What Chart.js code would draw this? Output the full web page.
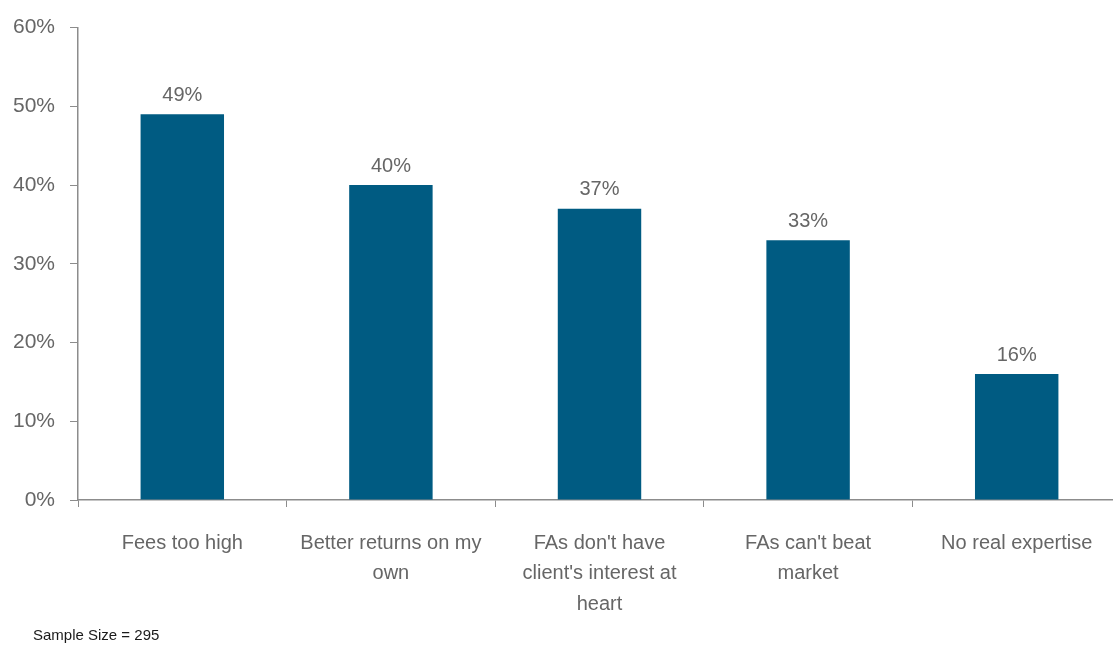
<!DOCTYPE html>
<html>
<head>
<meta charset="utf-8">
<script src="https://cdn.jsdelivr.net/npm/chart.js@4"></script>
<style>
  html, body { margin: 0; padding: 0; background: #fff; overflow: hidden; }
  #wrap { position: relative; width: 1121px; height: 645px; }
</style>
</head>
<body>
<div id="wrap"><canvas id="chartReasons"></canvas></div>
<script>
  const categories = [
    "Fees too high",
    ["Better returns on my", "own"],
    ["FAs don't have", "client's interest at", "heart"],
    ["FAs can't beat", "market"],
    "No real expertise"
  ];
  const shares = [49, 40, 37, 33, 16];
  const yTicks = [0, 10, 20, 30, 40, 50, 60];
  const footnote = "Sample Size = 295";

  const textGrey = "#666666";
  const axisGrey = "#8c8c8c";

  /* value labels over each bar */
  const barLabels = {
    id: "barLabels",
    afterDatasetsDraw(chart) {
      const ctx = chart.ctx;
      const meta = chart.getDatasetMeta(0);
      ctx.save();
      ctx.font = "20px 'Liberation Sans', Arial, sans-serif";
      ctx.fillStyle = textGrey;
      ctx.textAlign = "center";
      ctx.textBaseline = "bottom";
      meta.data.forEach(function (bar, i) {
        ctx.fillText(shares[i] + "%", bar.x, bar.y - 9);
      });
      ctx.restore();
    }
  };

  /* sample size note under the chart */
  const sampleNote = {
    id: "sampleNote",
    afterDraw(chart) {
      const ctx = chart.ctx;
      ctx.save();
      ctx.font = "15px 'Liberation Sans', Arial, sans-serif";
      ctx.fillStyle = "#1a1a1a";
      ctx.textAlign = "left";
      ctx.textBaseline = "middle";
      ctx.fillText(footnote, 33, 636);
      ctx.restore();
    }
  };

  new Chart(document.getElementById("chartReasons").getContext("2d"), {
    type: "bar",
    data: {
      labels: categories,
      datasets: [
        {
          data: shares,
          backgroundColor: "#005b82",
          borderWidth: 0,
          categoryPercentage: 1,
          barPercentage: 0.4
        }
      ]
    },
    options: {
      responsive: true,
      maintainAspectRatio: false,
      animation: false,
      layout: { padding: { top: 25, right: 0, bottom: 0, left: 0 } },
      scales: {
        x: {
          border: { display: true, color: axisGrey, width: 1.5 },
          grid: {
            display: true,
            offset: true,
            drawOnChartArea: false,
            drawTicks: true,
            tickLength: 7,
            color: axisGrey
          },
          ticks: {
            color: textGrey,
            padding: 21,
            maxRotation: 0,
            autoSkip: false,
            font: { family: "'Liberation Sans', Arial, sans-serif", size: 20, lineHeight: 1.52 }
          },
          afterFit(scale) { scale.height = 145; }
        },
        y: {
          min: 0,
          max: 60,
          border: { display: true, color: axisGrey, width: 1.5 },
          grid: {
            display: true,
            drawOnChartArea: false,
            drawTicks: true,
            tickLength: 8,
            color: axisGrey
          },
          afterBuildTicks(scale) {
            scale.ticks = yTicks.map(function (v) { return { value: v }; });
          },
          ticks: {
            color: textGrey,
            padding: 15,
            callback: function (v) { return v + "%"; },
            font: { family: "'Liberation Sans', Arial, sans-serif", size: 21 }
          },
          afterFit(scale) { scale.width = 78; }
        }
      },
      plugins: {
        legend: { display: false },
        tooltip: { enabled: false }
      }
    },
    plugins: [barLabels, sampleNote]
  });
</script>
</body>
</html>
